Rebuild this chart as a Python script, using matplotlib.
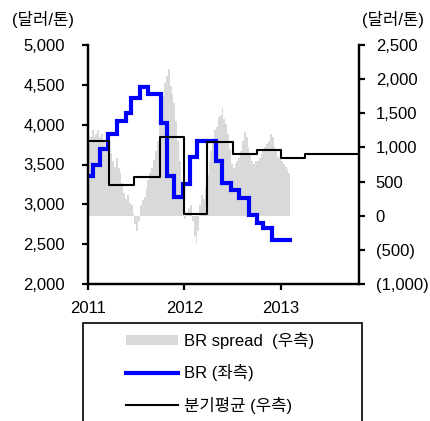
import matplotlib
matplotlib.use("Agg")
import matplotlib.pyplot as plt
import numpy as np
from matplotlib.patches import Rectangle, Patch
from matplotlib.lines import Line2D

plt.rcParams['font.family'] = ['Liberation Sans', 'Noto Sans CJK KR', 'DejaVu Sans']

# ---- data (x in months since Jan 2011) ----
year_ticks = [0, 12, 24]
year_labels = ['2011', '2012', '2013']

# BR (left axis), step changes
br_month = [0.0, 0.66, 1.49, 2.45, 3.65, 4.68, 5.30, 6.47, 7.50, 9.08, 9.87, 10.66,
            11.86, 12.69, 13.60, 15.92, 16.63, 17.75, 18.82, 20.02, 21.02, 21.77, 22.92, 25.12]
br_value = [3350, 3500, 3700, 3880, 4050, 4150, 4340, 4470, 4390, 4020, 3350, 3090,
            3260, 3590, 3790, 3550, 3270, 3180, 3080, 2860, 2770, 2700, 2550, 2550]

# quarterly average (right axis)
qavg_month = [0.0, 2.55, 5.7, 8.9, 11.9, 14.85, 18.0, 21.0, 24.0, 27.0, 33.7]
qavg_value = [1100, 450, 560, 1150, 30, 1075, 905, 960, 850, 910, 910]

# BR spread (right axis), weekly
spread_value = [
    1100, 1150, 1250, 1150, 1200, 1250, 1150, 1200, 1100, 1000,
    950, 1000, 920, 800, 720, 850, 700, 620, 480, 330,
    250, 300, 180, 150, 30, -120, -230, -80, 150, 230,
    280, 400, 520, 620, 700, 820, 950, 1100, 1350, 1550,
    1750, 1950, 2050, 2150, 1900, 1780, 1650, 1380, 1100, 800,
    450, 200, -50, 60, 120, 150, -80, -300, -400, -220,
    150, 300, 250, 420, 600, 780, 950, 1100, 1250, 1300,
    1450, 1480, 1580, 1420, 1350, 1200, 980, 750, 700, 750,
    800, 850, 950, 1100, 1220, 1150, 1000, 900, 800, 760,
    800, 800, 850, 900, 950, 1000, 1050, 1100, 1200, 1150,
    1000, 950, 860, 850, 800, 760, 720, 680, 620]
week_len = 12 / 52
spread_month = [i * week_len for i in range(len(spread_value))]

left_ticks = [2000, 2500, 3000, 3500, 4000, 4500, 5000]
left_labels = ['2,000', '2,500', '3,000', '3,500', '4,000', '4,500', '5,000']
right_ticks = [-1000, -500, 0, 500, 1000, 1500, 2000, 2500]
right_labels = ['(1,000)', '(500)', '0', '500', '1,000', '1,500', '2,000', '2,500']

legend_labels = ['BR spread  (우측)', 'BR (좌측)', '분기평균 (우측)']

# ---- figure ----
W, H = 431, 421
fig = plt.figure(figsize=(W / 100, H / 100), dpi=100)
L, R, T, B = 88, 359, 45, 284
ax = fig.add_axes([L / W, 1 - B / H, (R - L) / W, (B - T) / H])
ax2 = ax.twinx()
ax3 = ax.twinx()

FS = 12
gray = '#d9d9d9'

# bars on right axis
ax2.bar(spread_month, spread_value, width=week_len, align='edge', color=gray,
        linewidth=0, zorder=1)
# quarterly average on a top layer sharing right scale
ax3.plot(qavg_month, qavg_value, drawstyle='steps-post', color='black', lw=1.5, zorder=3)
# BR on left axis
ax.plot(br_month, br_value, drawstyle='steps-post', color='#0000ff', lw=3,
        solid_joinstyle='miter', zorder=2)

ax.set_zorder(ax2.get_zorder() + 1)
ax.patch.set_visible(False)
ax3.set_zorder(ax.get_zorder() + 1)
ax3.patch.set_visible(False)

ax.set_xlim(0, 33.7)
ax.set_ylim(2000, 5000)
ax2.set_ylim(-1000, 2500)
ax3.set_ylim(-1000, 2500)

ax.set_xticks(year_ticks)
ax.set_xticklabels(year_labels, fontsize=FS)
ax.set_yticks(left_ticks)
ax.set_yticklabels(left_labels, fontsize=FS)
ax2.set_yticks(right_ticks)
ax2.set_yticklabels(right_labels, fontsize=FS)

ax3.set_yticks([])
ax3.axis('off')

for a in (ax, ax2):
    a.spines['top'].set_visible(False)
    for s in ('left', 'right', 'bottom'):
        a.spines[s].set_linewidth(1.6)
ax.tick_params(axis='y', direction='out', length=4, width=1.6, pad=12.5)
ax.tick_params(axis='x', direction='out', length=4, width=1.6, pad=8)
ax2.tick_params(axis='y', direction='out', length=4, width=1.6, pad=8)
for t in ax2.get_yticklabels():
    t.set_horizontalalignment('left')

# unit labels
fig.text(12 / W, 1 - 20 / H, '(달러/톤)', fontsize=FS, ha='left', va='center')
fig.text(362 / W, 1 - 20 / H, '(달러/톤)', fontsize=FS, ha='left', va='center')

# legend box
rect = Rectangle((83 / W, -0.02), (362 - 83) / W, 0.02 + 1 - 323 / H,
                 transform=fig.transFigure, fill=False, edgecolor='black', lw=1.2,
                 clip_on=False)
fig.patches.append(rect)

handles = [Patch(facecolor=gray, edgecolor='none'),
           Line2D([], [], color='#0000ff', lw=3),
           Line2D([], [], color='black', lw=1.5)]
fig.legend(handles, legend_labels, loc='upper left',
           bbox_to_anchor=(126 / W, 1 - 332 / H), bbox_transform=fig.transFigure,
           frameon=False, fontsize=FS, handlelength=3.1, handleheight=0.6,
           handletextpad=0.35, labelspacing=0.92, borderpad=0, borderaxespad=0)

fig.savefig('out.png', dpi=100)
